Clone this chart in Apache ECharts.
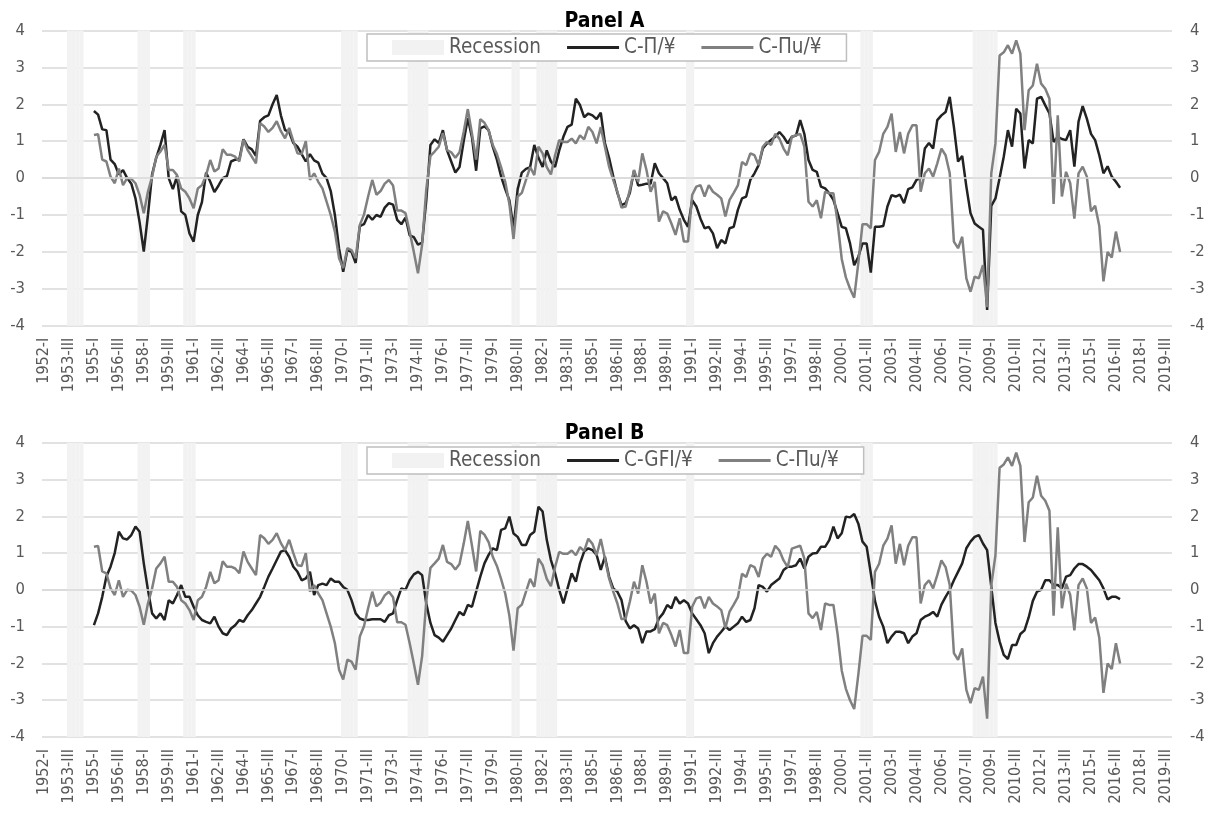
<!DOCTYPE html>
<html><head><meta charset="utf-8">
<script src="https://cdn.jsdelivr.net/npm/echarts@6/dist/echarts.min.js"></script>
<style>html,body{margin:0;padding:0;background:#fff}#c{width:1209px;height:813px}</style>
</head><body><div id="c"></div>
<script>
// ---- categories (quarterly, 1952-I .. 2019-IV) ----
const startYear = 1952, endYear = 2019;
const quarterNames = ['I', 'II', 'III', 'IV'];
const categories = [];
for (let y = startYear; y <= endYear; y++) for (const q of quarterNames) categories.push(y + '-' + q);
const firstDataQuarter = '1955-I';

// ---- y axis range / ticks ----
const yMin = -4, yMax = 4, yStep = 1;

// ---- recession quarters ----
const recessionQuarters = ['1953-III','1953-IV','1954-I','1954-II','1957-IV','1958-I','1958-II',
  '1960-III','1960-IV','1961-I','1970-I','1970-II','1970-III','1970-IV',
  '1974-I','1974-II','1974-III','1974-IV','1975-I','1980-II','1980-III',
  '1981-IV','1982-I','1982-II','1982-III','1982-IV','1990-IV','1991-I',
  '2001-II','2001-III','2001-IV','2008-I','2008-II','2008-III','2008-IV','2009-I','2009-II'];

// ---- C-Π/¥ (Panel A), from 1955-I ----
const cPi = [
  1.82, 1.72, 1.32, 1.30, 0.50, 0.38, 0.10, 0.22, 0.00, -0.15,
  -0.55, -1.20, -1.99, -1.00, 0.10, 0.55, 0.90, 1.30, 0.00, -0.30,
  0.05, -0.90, -1.00, -1.50, -1.72, -1.00, -0.65, 0.15, -0.10, -0.38,
  -0.20, 0.00, 0.05, 0.45, 0.50, 0.52, 1.05, 0.85, 0.78, 0.60,
  1.55, 1.65, 1.70, 2.00, 2.25, 1.70, 1.30, 1.25, 0.95, 0.85,
  0.65, 0.45, 0.65, 0.48, 0.42, 0.12, 0.00, -0.35, -1.00, -1.90,
  -2.54, -1.95, -2.00, -2.30, -1.30, -1.25, -1.00, -1.13, -1.00, -1.05,
  -0.80, -0.68, -0.72, -1.13, -1.25, -1.07, -1.55, -1.60, -1.80, -1.75,
  -0.60, 0.90, 1.05, 0.95, 1.30, 0.75, 0.45, 0.15, 0.30, 1.00,
  1.62, 1.10, 0.20, 1.35, 1.40, 1.30, 0.85, 0.50, 0.05, -0.30,
  -0.60, -1.35, -0.30, 0.15, 0.25, 0.30, 0.90, 0.55, 0.30, 0.75,
  0.45, 0.30, 0.75, 1.12, 1.39, 1.45, 2.15, 1.98, 1.65, 1.75,
  1.70, 1.60, 1.77, 0.95, 0.55, 0.05, -0.40, -0.73, -0.68, -0.40,
  0.20, -0.20, -0.18, -0.15, -0.15, 0.40, 0.13, 0.00, -0.14, -0.60,
  -0.50, -0.86, -1.13, -1.32, -0.60, -0.77, -1.10, -1.36, -1.32, -1.50,
  -1.90, -1.68, -1.77, -1.36, -1.32, -0.86, -0.55, -0.50, -0.05, 0.13,
  0.35, 0.80, 0.94, 1.03, 1.12, 1.25, 1.12, 0.94, 1.12, 1.15,
  1.57, 1.20, 0.49, 0.22, 0.17, -0.23, -0.28, -0.41, -0.59, -0.95,
  -1.32, -1.36, -1.77, -2.36, -2.13, -1.77, -1.77, -2.56, -1.32, -1.32,
  -1.30, -0.77, -0.46, -0.50, -0.45, -0.68, -0.30, -0.25, -0.05, 0.00,
  0.80, 0.95, 0.80, 1.57, 1.70, 1.79, 2.20, 1.39, 0.45, 0.60,
  -0.23, -0.95, -1.23, -1.32, -1.40, -3.57, -0.75, -0.55, 0.00, 0.58,
  1.30, 0.85, 1.88, 1.75, 0.26, 1.03, 0.94, 2.15, 2.20, 1.97,
  1.75, 0.98, 1.12, 1.06, 1.03, 1.30, 0.31, 1.53, 1.95, 1.61,
  1.20, 1.03, 0.62, 0.13, 0.32, 0.04, -0.10, -0.26
];

// ---- C-Πu/¥ (both panels), from 1955-I ----
const cPiU = [
  1.17, 1.19, 0.50, 0.45, 0.04, -0.14, 0.26, -0.19, 0.00, -0.02,
  -0.14, -0.46, -0.95, -0.37, 0.04, 0.58, 0.72, 0.90, 0.22, 0.22,
  0.08, -0.28, -0.37, -0.55, -0.82, -0.28, -0.19, 0.08, 0.49, 0.18,
  0.26, 0.78, 0.63, 0.63, 0.58, 0.45, 1.04, 0.76, 0.58, 0.40,
  1.49, 1.40, 1.25, 1.36, 1.54, 1.27, 1.08, 1.36, 1.00, 0.67,
  0.65, 1.00, -0.05, 0.13, -0.10, -0.28, -0.64, -1.00, -1.45, -2.17,
  -2.44, -1.90, -1.95, -2.17, -1.27, -0.99, -0.50, -0.05, -0.45, -0.35,
  -0.15, -0.05, -0.20, -0.88, -0.88, -0.95, -1.45, -2.00, -2.58, -1.80,
  -0.30, 0.60, 0.72, 0.85, 1.22, 0.76, 0.70, 0.55, 0.70, 1.25,
  1.87, 1.20, 0.50, 1.60, 1.50, 1.30, 0.90, 0.65, 0.30, -0.10,
  -0.70, -1.65, -0.50, -0.40, -0.05, 0.30, 0.08, 0.85, 0.67, 0.30,
  0.10, 0.62, 1.03, 0.98, 0.98, 1.07, 0.94, 1.16, 1.05, 1.39,
  1.25, 0.94, 1.38, 0.85, 0.31, -0.05, -0.37, -0.80, -0.77, -0.32,
  0.22, -0.10, 0.67, 0.22, -0.37, -0.10, -1.18, -0.90, -0.96, -1.23,
  -1.54, -1.09, -1.72, -1.72, -0.46, -0.23, -0.19, -0.50, -0.19, -0.37,
  -0.45, -0.55, -1.04, -0.59, -0.40, -0.20, 0.44, 0.35, 0.67, 0.62,
  0.35, 0.85, 0.98, 0.90, 1.20, 1.07, 0.80, 0.62, 1.12, 1.16,
  1.20, 0.85, -0.64, -0.77, -0.60, -1.09, -0.37, -0.41, -0.41, -1.20,
  -2.19, -2.69, -3.00, -3.24, -2.30, -1.25, -1.25, -1.36, 0.49, 0.71,
  1.20, 1.39, 1.75, 0.71, 1.25, 0.67, 1.20, 1.43, 1.43, -0.37,
  0.13, 0.26, 0.04, 0.40, 0.80, 0.62, 0.13, -1.72, -1.90, -1.59,
  -2.72, -3.08, -2.67, -2.72, -2.36, -3.50, 0.13, 0.94, 3.32, 3.41,
  3.60, 3.37, 3.73, 3.37, 1.30, 2.38, 2.51, 3.10, 2.56, 2.42,
  2.15, -0.70, 1.70, -0.50, 0.17, -0.14, -1.10, 0.13, 0.31, 0.04,
  -0.90, -0.75, -1.30, -2.80, -2.00, -2.15, -1.45, -2.00
];

// ---- C-GFI/¥ (Panel B), from 1955-I ----
const cGFI = [
  -0.96, -0.64, -0.19, 0.36, 0.63, 1.00, 1.58, 1.40, 1.37, 1.49,
  1.72, 1.58, 0.72, 0.00, -0.64, -0.78, -0.64, -0.82, -0.28, -0.37,
  -0.14, 0.13, -0.19, -0.19, -0.46, -0.69, -0.82, -0.87, -0.91, -0.73,
  -1.00, -1.18, -1.23, -1.05, -0.96, -0.82, -0.87, -0.69, -0.55, -0.37,
  -0.19, 0.08, 0.36, 0.58, 0.81, 1.04, 1.08, 0.90, 0.63, 0.49,
  0.26, 0.31, 0.49, -0.14, 0.13, 0.17, 0.13, 0.31, 0.22, 0.22,
  0.08, 0.00, -0.28, -0.64, -0.78, -0.82, -0.82, -0.80, -0.80, -0.80,
  -0.87, -0.69, -0.64, -0.28, 0.04, 0.00, 0.26, 0.42, 0.49, 0.40,
  -0.37, -0.90, -1.23, -1.30, -1.41, -1.23, -1.05, -0.82, -0.60, -0.69,
  -0.41, -0.46, -0.05, 0.36, 0.72, 0.95, 1.13, 1.08, 1.63, 1.67,
  1.99, 1.53, 1.44, 1.22, 1.22, 1.49, 1.58, 2.26, 2.13, 1.36,
  0.81, 0.45, 0.00, -0.37, 0.04, 0.45, 0.22, 0.72, 1.04, 1.13,
  1.08, 0.95, 0.54, 0.90, 0.36, 0.04, -0.05, -0.28, -0.85, -1.05,
  -0.96, -1.05, -1.45, -1.13, -1.13, -1.07, -0.78, -0.64, -0.41, -0.50,
  -0.19, -0.37, -0.28, -0.37, -0.64, -0.80, -0.96, -1.18, -1.72, -1.45,
  -1.27, -1.14, -1.00, -1.09, -1.00, -0.91, -0.73, -0.87, -0.82, -0.50,
  0.13, 0.08, -0.05, 0.13, 0.22, 0.31, 0.54, 0.63, 0.63, 0.67,
  0.85, 0.58, 0.90, 0.99, 1.00, 1.17, 1.17, 1.35, 1.72, 1.40,
  1.54, 1.99, 1.97, 2.06, 1.80, 1.31, 1.17, 0.45, -0.30, -0.73,
  -1.00, -1.45, -1.27, -1.14, -1.14, -1.18, -1.45, -1.27, -1.18, -0.82,
  -0.73, -0.68, -0.60, -0.73, -0.40, -0.19, 0.00, 0.26, 0.49, 0.72,
  1.13, 1.31, 1.44, 1.49, 1.26, 1.08, 0.08, -0.90, -1.40, -1.77,
  -1.88, -1.50, -1.50, -1.20, -1.10, -0.75, -0.30, -0.05, 0.00, 0.26,
  0.26, 0.13, 0.13, 0.04, 0.36, 0.40, 0.58, 0.70, 0.70, 0.63,
  0.54, 0.40, 0.26, 0.04, -0.26, -0.19, -0.19, -0.25
];

// ---- build table for the library ----
const offset = categories.indexOf(firstDataQuarter);
function pad(arr) {
  const out = new Array(categories.length).fill(null);
  arr.forEach((v, k) => { out[offset + k] = v; });
  return out;
}
const recUp = categories.map(c => recessionQuarters.includes(c) ? yMax : null);
const recDown = categories.map(c => recessionQuarters.includes(c) ? yMin : null);

const FONT = '"DejaVu Sans Condensed", "DejaVu Sans", sans-serif';
const TXT = '#595959', GRID = '#d9d9d9', REC = '#f2f2f2';
const BLACK = '#222222', GRAY = '#808080';
const LINE_ICON = 'path://M0,0L48,0L48,2.6L0,2.6Z';

const grids = [{ left: 42, right: 37, top: 30.5, height: 295.2 },
               { left: 42, right: 37, top: 442.7, height: 294.3 }];

function xAxisFor(g) {
  return {
    type: 'category', gridIndex: g, data: categories, boundaryGap: true,
    axisLine: { show: false }, axisTick: { show: false },
    axisLabel: { interval: 5, rotate: 90, fontSize: 16, color: TXT, fontFamily: FONT, margin: 12 },
    splitLine: { show: false }
  };
}
function yAxisFor(g, side) {
  return {
    type: 'value', gridIndex: g, position: side, min: yMin, max: yMax, interval: yStep,
    axisLine: { show: false }, axisTick: { show: false },
    axisLabel: { fontSize: 16.5, color: TXT, fontFamily: FONT, margin: side === 'left' ? 17 : 18,
                 align: side === 'left' ? 'right' : 'left' },
    splitLine: { show: side === 'left', lineStyle: { color: GRID, width: 1.5 } }
  };
}
function recessionSeries(g, data, withZero) {
  const s = {
    type: 'bar', name: 'Recession', xAxisIndex: g, yAxisIndex: 2 * g, stack: 'rec' + g,
    data: data, itemStyle: { color: REC }, barCategoryGap: '0%', barGap: '0%', silent: true, z: 1
  };
  if (withZero) {
    s.markLine = { silent: true, symbol: 'none', label: { show: false },
      lineStyle: { color: GRID, width: 1.5, type: 'solid' }, data: [{ yAxis: 0 }] };
  }
  return s;
}
function lineSeries(g, name, data, color) {
  return {
    type: 'line', name: name, xAxisIndex: g, yAxisIndex: 2 * g, data: pad(data),
    symbol: 'none', showSymbol: false, connectNulls: false, z: 3,
    lineStyle: { color: color, width: 2.5 }, itemStyle: { color: color }
  };
}
function legendFor(top, names) {
  return {
    top: top, left: 367, orient: 'horizontal', itemGap: 26, itemWidth: 52, itemHeight: 15,
    padding: [3, 25, 3, 25], borderColor: '#bfbfbf', borderWidth: 1.5, backgroundColor: '#ffffff',
    textStyle: { fontSize: 20.5, color: TXT, fontFamily: FONT },
    data: [{ name: 'Recession', icon: 'rect' }].concat(names.map(n => ({ name: n, icon: LINE_ICON }))),
    selectedMode: false
  };
}

const option = {
  animation: false,
  backgroundColor: '#ffffff',
  title: [
    { text: 'Panel A', left: 'center', top: 11, padding: 0,
      textStyle: { fontSize: 21, fontWeight: 'bold', color: '#000', fontFamily: FONT } },
    { text: 'Panel B', left: 'center', top: 423, padding: 0,
      textStyle: { fontSize: 21, fontWeight: 'bold', color: '#000', fontFamily: FONT } }
  ],
  legend: [legendFor(34, ['C-Π/¥', 'C-Πu/¥']), legendFor(447, ['C-GFI/¥', 'C-Πu/¥'])],
  grid: grids,
  xAxis: [xAxisFor(0), xAxisFor(1)],
  yAxis: [yAxisFor(0, 'left'), yAxisFor(0, 'right'), yAxisFor(1, 'left'), yAxisFor(1, 'right')],
  series: [
    recessionSeries(0, recUp, false), recessionSeries(0, recDown, true),
    lineSeries(0, 'C-Π/¥', cPi, BLACK), lineSeries(0, 'C-Πu/¥', cPiU, GRAY),
    recessionSeries(1, recUp, false), recessionSeries(1, recDown, true),
    lineSeries(1, 'C-GFI/¥', cGFI, BLACK), lineSeries(1, 'C-Πu/¥', cPiU, GRAY)
  ]
};
const chart = echarts.init(document.getElementById('c'), null, { renderer: 'canvas' });
chart.setOption(option);
</script></body></html>
